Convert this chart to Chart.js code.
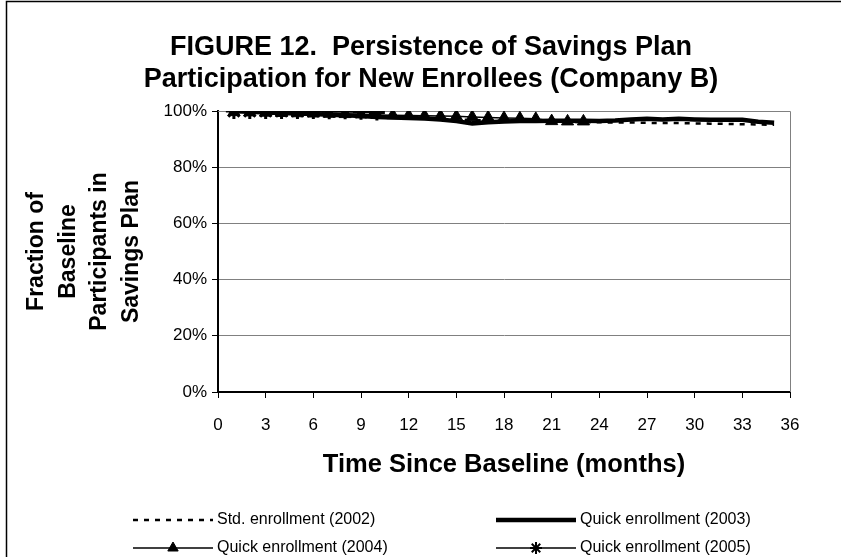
<!DOCTYPE html>
<html>
<head>
<meta charset="utf-8">
<script src="https://cdn.jsdelivr.net/npm/chart.js@4"></script>
<style>
  html, body { margin: 0; padding: 0; background: #fff; }
  #wrap { width: 841px; height: 557px; }
</style>
</head>
<body>
<div id="wrap"><canvas id="chart" width="841" height="557"></canvas></div>
<script>
// months since baseline
const months = [1, 2, 3, 4, 5, 6, 7, 8, 9, 10, 11, 12, 13, 14, 15, 16, 17, 18,
  19, 20, 21, 22, 23, 24, 25, 26, 27, 28, 29, 30, 31, 32, 33, 34, 35];

// percent of baseline participants still in the plan
const std2002 = [99.9, 99.8, 99.6, 99.5, 99.3, 99.2, 99.0, 98.8, 98.5, 98.2, 97.9, 97.6,
  97.4, 97.2, 97.0, 96.8, 96.6, 96.5, 96.4, 96.3, 96.2, 96.1, 96.0, 96.0, 95.9, 95.9,
  95.8, 95.7, 95.7, 95.6, 95.5, 95.4, 95.3, 95.2, 95.1];
const quick2003 = [99.9, 99.7, 99.5, 99.3, 99.1, 98.9, 98.7, 98.5, 98.2, 97.9, 97.7, 97.5,
  97.3, 97.0, 96.4, 95.6, 96.0, 96.3, 96.4, 96.4, 96.5, 96.5, 96.5, 96.4, 96.6, 97.0,
  97.2, 97.0, 97.2, 97.0, 96.9, 96.9, 96.9, 96.2, 95.8];
const quick2004 = [99.6, 99.5, 99.4, 99.3, 99.2, 99.1, 99.0, 98.9, 98.8, 98.6, 98.5, 98.4,
  98.3, 98.2, 98.1, 97.9, 97.7, 97.5, 97.4, 97.2, 96.4, 96.3, 96.3];
const quick2005 = [100, 100, 100, 100, 100, 100, 99.9, 99.9, 99.7, 99.5];

const seriesNames = ["Std. enrollment (2002)", "Quick enrollment (2003)",
  "Quick enrollment (2004)", "Quick enrollment (2005)"];
const titleLines = ["FIGURE 12.  Persistence of Savings Plan",
  "Participation for New Enrollees (Company B)"];
const yTitleLines = ["Fraction of", "Baseline", "Participants in", "Savings Plan"];
const xTitle = "Time Since Baseline (months)";

function pts(vals) {
  return vals.map((v, i) => ({ x: months[i], y: v }));
}

const FONT = "'Liberation Sans', Arial, sans-serif";

const datasets = [
  {
    label: seriesNames[0], data: pts(std2002), order: 4,
    borderColor: "#000", borderWidth: 2.5, borderDash: [5, 6], pointRadius: 0
  },
  {
    label: seriesNames[1], data: pts(quick2003), order: 3,
    borderColor: "#000", borderWidth: 4.5, pointRadius: 0
  },
  {
    label: seriesNames[2], data: pts(quick2004), order: 2,
    borderColor: "#000", borderWidth: 1.5, pointStyle: "triangle", pointRadius: 7,
    pointBackgroundColor: "#000", pointBorderColor: "#000", pointBorderWidth: 1
  },
  {
    label: seriesNames[3], data: pts(quick2005), order: 1,
    borderColor: "#000", borderWidth: 1.5, pointStyle: "star", pointRadius: 8,
    pointBackgroundColor: "#000", pointBorderColor: "#000", pointBorderWidth: 3
  }
];

// frame, plot border, title and legend
const decor = {
  id: "decor",
  beforeDatasetsDraw(chart) {
    const { ctx, chartArea: a } = chart;
    ctx.save();
    ctx.strokeStyle = "#808080";
    ctx.lineWidth = 1;
    ctx.beginPath();
    ctx.moveTo(a.left, a.top + 0.5);
    ctx.lineTo(a.right + 0.5, a.top + 0.5);
    ctx.lineTo(a.right + 0.5, a.bottom);
    ctx.stroke();
    ctx.restore();
  },
  afterDraw(chart) {
    const { ctx } = chart;
    ctx.save();
    // outer frame
    ctx.strokeStyle = "#000";
    ctx.lineWidth = 1.5;
    ctx.beginPath();
    ctx.moveTo(6.5, 557);
    ctx.lineTo(6.5, 1.5);
    ctx.lineTo(841, 1.5);
    ctx.stroke();

    // title
    ctx.fillStyle = "#000";
    ctx.font = "bold 27px " + FONT;
    ctx.textAlign = "center";
    ctx.textBaseline = "middle";
    ctx.fillText(titleLines[0], 431, 48);
    ctx.fillText(titleLines[1], 431, 80);

    // legend
    const items = [
      { x: 133, y: 520, ds: 0 }, { x: 496, y: 520, ds: 1 },
      { x: 133, y: 548, ds: 2 }, { x: 496, y: 548, ds: 3 }
    ];
    const len = 80;
    ctx.font = "16px " + FONT;
    ctx.textAlign = "left";
    items.forEach(it => {
      const d = datasets[it.ds];
      ctx.save();
      ctx.strokeStyle = "#000";
      ctx.lineWidth = d.borderWidth;
      ctx.setLineDash(d.borderDash || []);
      ctx.beginPath();
      ctx.moveTo(it.x, it.y);
      ctx.lineTo(it.x + len, it.y);
      ctx.stroke();
      ctx.restore();
      if (d.pointRadius) {
        ctx.save();
        ctx.fillStyle = "#000";
        ctx.strokeStyle = "#000";
        ctx.lineWidth = Math.min(d.pointBorderWidth, 2);
        Chart.helpers.drawPoint(ctx, {
          pointStyle: d.pointStyle, radius: 6,
          rotation: 0, borderWidth: 2
        }, it.x + len / 2, it.y);
        ctx.restore();
      }
      ctx.fillStyle = "#000";
      ctx.fillText(seriesNames[it.ds], it.x + len + 4, it.y);
    });
    ctx.restore();
  }
};

new Chart(document.getElementById("chart"), {
  type: "line",
  data: { datasets },
  options: {
    responsive: false,
    animation: false,
    layout: { padding: { top: 111, right: 51, bottom: 77, left: 0 } },
    plugins: { legend: { display: false }, title: { display: false }, tooltip: { enabled: false } },
    elements: { line: { tension: 0 } },
    scales: {
      x: {
        type: "linear", min: 0, max: 36,
        afterFit(scale) { scale.height = 88; },
        ticks: { stepSize: 3, padding: 17, color: "#000", font: { family: FONT, size: 17 } },
        grid: { drawOnChartArea: false, tickLength: 6, tickColor: "#000" },
        border: { color: "#000", width: 2 },
        title: {
          display: true, text: xTitle, color: "#000",
          font: { family: FONT, size: 25.5, weight: "bold" }, padding: 0
        }
      },
      y: {
        min: 0, max: 100,
        afterFit(scale) { scale.width = 218; },
        ticks: {
          stepSize: 20, padding: 5, color: "#000", font: { family: FONT, size: 17 },
          callback: v => v + "%"
        },
        grid: { color: "#808080", tickLength: 6, tickColor: "#000" },
        border: { color: "#000", width: 2 },
        title: {
          display: true, text: yTitleLines, color: "#000",
          font: { family: FONT, size: 23, weight: "bold", lineHeight: 1.37 }, padding: { top: 21 }
        }
      }
    }
  },
  plugins: [decor]
});
</script>
</body>
</html>
